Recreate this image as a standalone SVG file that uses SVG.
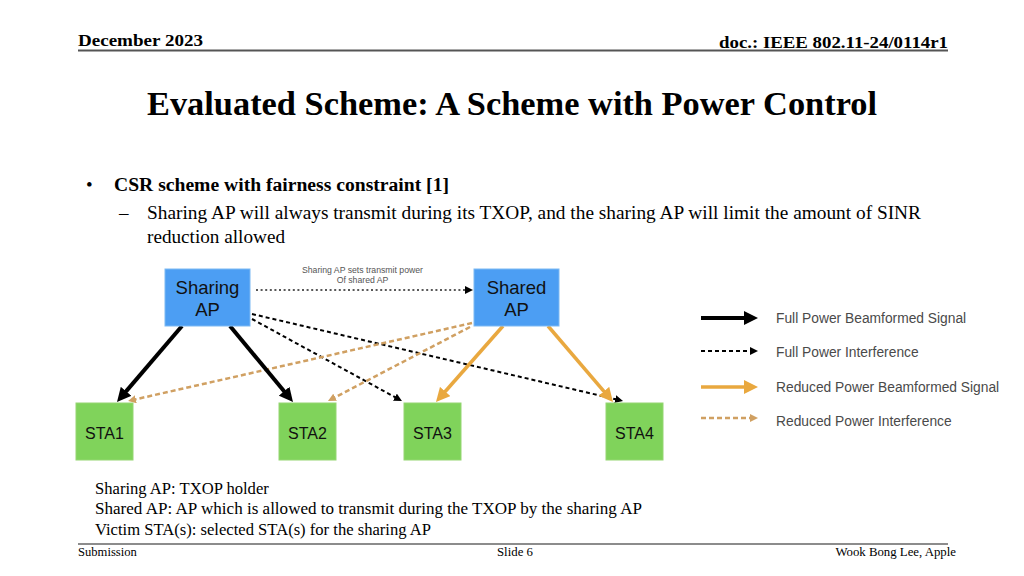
<svg xmlns="http://www.w3.org/2000/svg" width="1024" height="576" viewBox="0 0 1024 576">
<style>
.serif{font-family:"Liberation Serif","Times New Roman",serif;fill:#000}
.sans{font-family:"Liberation Sans",Arial,sans-serif}
.ap rect{fill:#4c9ef3;stroke:#7cb9f3;stroke-width:1}
.sta rect{fill:#80d35b;stroke:#95d673;stroke-width:1}
.nodetxt{font-family:"Liberation Sans",Arial,sans-serif;fill:#111;text-anchor:middle}
.full{stroke:#000;stroke-width:4;fill:none}
.red{stroke:#e9a83f;stroke-width:3.5;fill:none}
.fint{stroke:#000;stroke-width:2;stroke-dasharray:4 3;fill:none}
.rint{stroke:#d0a062;stroke-width:2.5;stroke-dasharray:5 3;fill:none}
.ctrl{stroke:#222;stroke-width:1.6;stroke-dasharray:2 2.6;fill:none}
.leg{font-family:"Liberation Sans",Arial,sans-serif;font-size:13.8px;fill:#4a4a4a}
</style>
<defs>
<marker id="hb" markerUnits="userSpaceOnUse" markerWidth="14" markerHeight="14" refX="4" refY="7" orient="auto"><path d="M0,0 L14,7 L0,14 z" fill="#000"/></marker>
<marker id="ho" markerUnits="userSpaceOnUse" markerWidth="14" markerHeight="14" refX="4" refY="7" orient="auto"><path d="M0,0 L14,7 L0,14 z" fill="#e9a83f"/></marker>
<marker id="sb" markerUnits="userSpaceOnUse" markerWidth="8" markerHeight="8" refX="2" refY="4" orient="auto"><path d="M0,0 L8,4 L0,8 z" fill="#000"/></marker>
<marker id="so" markerUnits="userSpaceOnUse" markerWidth="8" markerHeight="8" refX="2" refY="4" orient="auto"><path d="M0,0 L8,4 L0,8 z" fill="#d0a062"/></marker>
</defs>
<rect width="1024" height="576" fill="#fff"/>

<g id="header">
<text class="serif" x="78" y="46" font-size="17" font-weight="bold" textLength="125" lengthAdjust="spacingAndGlyphs">December 2023</text>
<text class="serif" x="948" y="48" font-size="17" font-weight="bold" text-anchor="end" textLength="229" lengthAdjust="spacingAndGlyphs">doc.: IEEE 802.11-24/0114r1</text>
<line x1="78" y1="50.5" x2="948" y2="50.5" stroke="#555" stroke-width="1.8"/>
</g>

<g id="title">
<text class="serif" x="147" y="114.5" font-size="34" font-weight="bold" textLength="730" lengthAdjust="spacingAndGlyphs">Evaluated Scheme: A Scheme with Power Control</text>
</g>

<g id="body">
<text class="serif" x="86" y="191" font-size="19">•</text>
<text class="serif" x="114" y="191" font-size="19.6" font-weight="bold" textLength="335" lengthAdjust="spacingAndGlyphs">CSR scheme with fairness constraint [1]</text>
<text class="serif" x="119" y="219" font-size="19">–</text>
<text class="serif" x="147" y="219" font-size="19.2" textLength="774" lengthAdjust="spacingAndGlyphs">Sharing AP will always transmit during its TXOP, and the sharing AP will limit the amount of SINR</text>
<text class="serif" x="147" y="243" font-size="19.2">reduction allowed</text>
</g>

<g id="connectors">
<line class="ctrl" x1="256" y1="290" x2="467" y2="290" marker-end="url(#sb)"/>
<text class="sans" x="362.5" y="273" font-size="8.7" fill="#555" text-anchor="middle">Sharing AP sets transmit power</text>
<text class="sans" x="362.5" y="282.5" font-size="8.7" fill="#555" text-anchor="middle">Of shared AP</text>
<line class="fint" x1="252" y1="319" x2="396.7" y2="398.1" marker-end="url(#sb)"/>
<line class="fint" x1="252" y1="314" x2="617.2" y2="399.6" marker-end="url(#sb)"/>
<line class="rint" x1="472" y1="323" x2="133.9" y2="399.7" marker-end="url(#so)"/>
<line class="rint" x1="470" y1="327" x2="333.3" y2="398.2" marker-end="url(#so)"/>
<line class="full" x1="182" y1="326" x2="123.5" y2="394.4" marker-end="url(#hb)"/>
<line class="full" x1="230" y1="326" x2="286.6" y2="394.3" marker-end="url(#hb)"/>
<line class="red" x1="503" y1="326" x2="442.6" y2="394.5" marker-end="url(#ho)"/>
<line class="red" x1="548" y1="326" x2="606.5" y2="394.4" marker-end="url(#ho)"/>
</g>

<g id="sharing-ap" class="ap">
<rect x="165" y="269" width="85" height="57"/>
<text class="nodetxt" x="207.5" y="293.5" font-size="18.5">Sharing</text>
<text class="nodetxt" x="207.5" y="315.5" font-size="18.5">AP</text>
</g>
<g id="shared-ap" class="ap">
<rect x="474" y="269" width="85" height="57"/>
<text class="nodetxt" x="516.5" y="293.5" font-size="18.5">Shared</text>
<text class="nodetxt" x="516.5" y="315.5" font-size="18.5">AP</text>
</g>
<g id="sta1" class="sta"><rect x="76" y="403" width="57" height="57"/><text class="nodetxt" x="104.5" y="438.5" font-size="16">STA1</text></g>
<g id="sta2" class="sta"><rect x="279" y="403" width="57" height="57"/><text class="nodetxt" x="307.5" y="438.5" font-size="16">STA2</text></g>
<g id="sta3" class="sta"><rect x="404" y="403" width="57" height="57"/><text class="nodetxt" x="432.5" y="438.5" font-size="16">STA3</text></g>
<g id="sta4" class="sta"><rect x="606" y="403" width="57" height="57"/><text class="nodetxt" x="634.5" y="438.5" font-size="16">STA4</text></g>

<g id="legend">
<line class="full" x1="701" y1="318" x2="748" y2="318" marker-end="url(#hb)"/>
<text class="leg" x="776" y="323">Full Power Beamformed Signal</text>
<line class="fint" x1="701" y1="351" x2="752" y2="351" marker-end="url(#sb)"/>
<text class="leg" x="776" y="357">Full Power Interference</text>
<line class="red" x1="701" y1="387" x2="748" y2="387" marker-end="url(#ho)"/>
<text class="leg" x="776" y="391.5">Reduced Power Beamformed Signal</text>
<line class="rint" x1="701" y1="418" x2="752" y2="418" marker-end="url(#so)"/>
<text class="leg" x="776" y="425.5">Reduced Power Interference</text>
</g>

<g id="notes">
<text class="serif" x="95" y="494" font-size="16.6">Sharing AP: TXOP holder</text>
<text class="serif" x="95" y="514" font-size="16.6" textLength="547" lengthAdjust="spacingAndGlyphs">Shared AP: AP which is allowed to transmit during the TXOP by the sharing AP</text>
<text class="serif" x="95" y="534.5" font-size="16.6">Victim STA(s): selected STA(s) for the sharing AP</text>
</g>

<g id="footer">
<line x1="78" y1="544" x2="948" y2="544" stroke="#666" stroke-width="1.5"/>
<text class="serif" x="78" y="556" font-size="12.6">Submission</text>
<text class="serif" x="497" y="556" font-size="12.8">Slide 6</text>
<text class="serif" x="956" y="556" font-size="12.8" text-anchor="end">Wook Bong Lee, Apple</text>
</g>
</svg>
